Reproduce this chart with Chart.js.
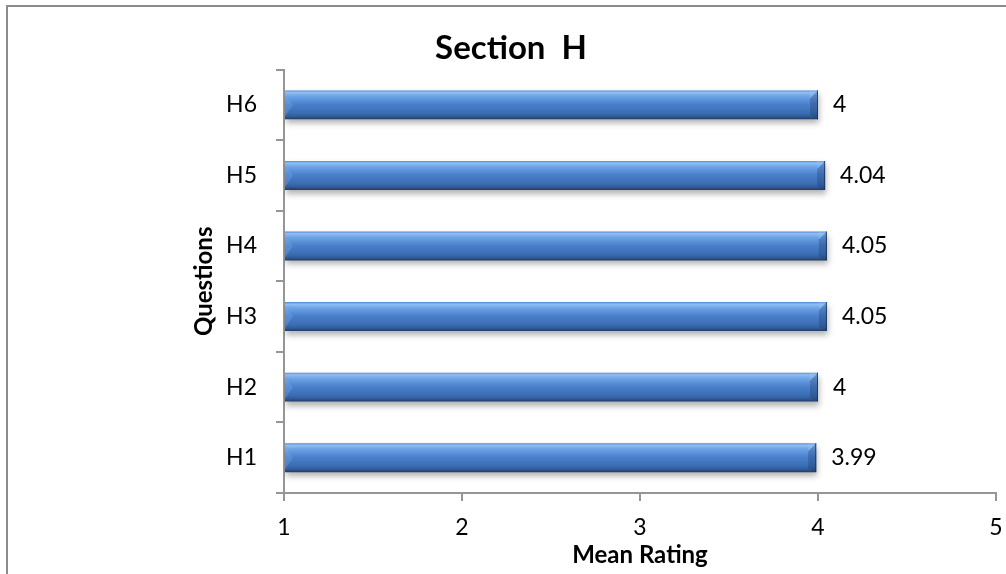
<!DOCTYPE html>
<html>
<head>
<meta charset="utf-8">
<script src="https://cdn.jsdelivr.net/npm/chart.js@4.4.1/dist/chart.umd.min.js"></script>
<style>
  html, body { margin: 0; padding: 0; background: #fff; overflow: hidden; }
  #wrap { position: relative; width: 1006px; height: 574px; }
  #frame { position: absolute; left: 6px; top: 5px; width: 1100px; height: 700px;
           border-top: 2px solid #8c8c8c; border-left: 2px solid #8c8c8c; box-sizing: border-box; }
  canvas { position: absolute; left: 0; top: 0; }
</style>
</head>
<body>
<div id="wrap">
  <div id="frame"></div>
  <canvas id="chart" width="1006" height="574"></canvas>
</div>
<script>
// Questions of section H and their mean ratings
const questions = ['H1', 'H2', 'H3', 'H4', 'H5', 'H6'];
const meanRatings = [3.99, 4, 4.05, 4.05, 4.04, 4];
const ratingTicks = [1, 2, 3, 4, 5];

const chartTitle = 'Section  H';
const xTitle = 'Mean Rating';
const yTitle = 'Questions';

const FONT = 'Lato, "Noto Sans", sans-serif';
const AXIS_GREY = '#969696';
const BAR_PCT = 0.41;

// vertical "glossy cylinder" fill for each bar
function barFill(c) {
  const chart = c.chart;
  const y = chart.scales.y;
  if (!chart.chartArea || !y || c.type !== 'data') return '#4a80cc';
  const center = y.getPixelForValue(c.dataIndex);
  const half = (y.height / questions.length) * BAR_PCT / 2;
  const g = chart.ctx.createLinearGradient(0, center - half, 0, center + half);
  g.addColorStop(0.00, '#5288d2');
  g.addColorStop(0.07, '#8fbff3');
  g.addColorStop(0.20, '#6ea3e6');
  g.addColorStop(0.48, '#4a80cb');
  g.addColorStop(0.78, '#3b6db4');
  g.addColorStop(0.90, '#305c98');
  g.addColorStop(1.00, '#203c62');
  return g;
}

// soft drop shadow under the bars
const barShadow = {
  id: 'barShadow',
  beforeDatasetsDraw(chart) {
    const ctx = chart.ctx;
    ctx.save();
    ctx.shadowColor = 'rgba(0,0,0,0.30)';
    ctx.shadowBlur = 6;
    ctx.shadowOffsetX = 1;
    ctx.shadowOffsetY = 4;
  },
  afterDatasetsDraw(chart) {
    chart.ctx.restore();
  }
};

// bevelled ends and value labels
const barDecor = {
  id: 'barDecor',
  afterDatasetsDraw(chart) {
    const ctx = chart.ctx;
    const meta = chart.getDatasetMeta(0);
    ctx.save();
    meta.data.forEach((bar, i) => {
      const { x, y, base, height } = bar.getProps(['x', 'y', 'base', 'height'], true);
      const t = y - height / 2, b = y + height / 2, l = base, r = x;
      // left end facet
      ctx.fillStyle = 'rgba(120,170,230,0.35)';
      ctx.beginPath();
      ctx.moveTo(l, t + 3);
      ctx.lineTo(l + 8, y);
      ctx.lineTo(l, b - 3);
      ctx.closePath();
      ctx.fill();
      // right end facet
      ctx.fillStyle = 'rgba(25,55,100,0.30)';
      ctx.beginPath();
      ctx.moveTo(r, t);
      ctx.lineTo(r, b);
      ctx.lineTo(r - 8, b - 4);
      ctx.lineTo(r - 8, t + 8);
      ctx.closePath();
      ctx.fill();
      ctx.fillStyle = 'rgba(150,200,250,0.30)';
      ctx.beginPath();
      ctx.moveTo(r - 9, t);
      ctx.lineTo(r, t);
      ctx.lineTo(r - 8, t + 8);
      ctx.closePath();
      ctx.fill();
      ctx.strokeStyle = 'rgba(25,50,90,0.8)';
      ctx.lineWidth = 1;
      ctx.beginPath();
      ctx.moveTo(r - 0.5, t);
      ctx.lineTo(r - 0.5, b);
      ctx.stroke();
      // value label
      ctx.fillStyle = '#000';
      ctx.font = '23px ' + FONT;
      ctx.textAlign = 'left';
      ctx.textBaseline = 'middle';
      ctx.fillText(String(meanRatings[i]), r + 15, y);
    });
    ctx.restore();
  }
};

new Chart(document.getElementById('chart'), {
  type: 'bar',
  data: {
    labels: questions,
    datasets: [{
      data: meanRatings,
      base: 1,
      backgroundColor: barFill,
      borderWidth: 0,
      barPercentage: BAR_PCT,
      categoryPercentage: 1
    }]
  },
  options: {
    indexAxis: 'y',
    responsive: false,
    animation: false,
    layout: { padding: { left: 26, right: 10, top: 0, bottom: 0 } },
    plugins: {
      legend: { display: false },
      tooltip: { enabled: false },
      title: {
        display: true,
        text: chartTitle,
        color: '#000',
        font: { family: FONT, size: 33, weight: 'bold' },
        padding: { top: 29, bottom: 1 }
      }
    },
    scales: {
      x: {
        type: 'linear',
        min: 1,
        max: 5,
        afterBuildTicks(scale) { scale.ticks = ratingTicks.map(v => ({ value: v })); },
        afterFit(scale) {
          scale.height = 574 - 493;
          scale.paddingLeft = 0;
          scale.paddingRight = 0;
        },
        ticks: {
          color: '#000',
          font: { family: FONT, size: 23 },
          padding: 13,
          maxRotation: 0
        },
        grid: { drawOnChartArea: false, drawTicks: true, tickLength: 8, color: AXIS_GREY, lineWidth: 2 },
        border: { color: AXIS_GREY, width: 2 },
        title: {
          display: true,
          text: xTitle,
          color: '#000',
          font: { family: FONT, size: 24, weight: 'bold' },
          padding: { top: 0, bottom: 4 }
        }
      },
      y: {
        reverse: true,
        afterFit(scale) { scale.width = 284 - 26; },
        ticks: {
          color: '#000',
          font: { family: FONT, size: 23 },
          padding: 19
        },
        grid: { offset: true, drawOnChartArea: false, drawTicks: true, tickLength: 8, color: AXIS_GREY, lineWidth: 2 },
        border: { color: AXIS_GREY, width: 2 },
        title: {
          display: true,
          text: yTitle,
          color: '#000',
          font: { family: FONT, size: 24, weight: 'bold' },
          padding: { top: 164, bottom: 0 }
        }
      }
    }
  },
  plugins: [barShadow, barDecor]
});
</script>
</body>
</html>
